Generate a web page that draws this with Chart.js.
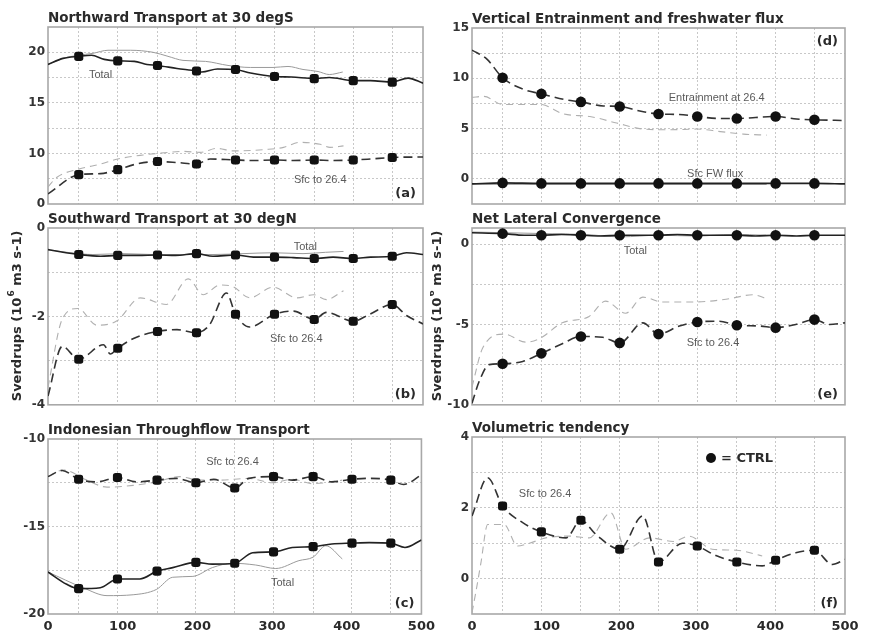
<!DOCTYPE html>
<html>
<head>
<meta charset="utf-8">
<script src="https://cdn.jsdelivr.net/npm/chart.js@4.4.1/dist/chart.umd.min.js"></script>
<style>
  body { margin: 0; background: #fff; width: 872px; height: 635px; position: relative; overflow: hidden; }
  canvas { position: absolute; }
</style>
</head>
<body>
<canvas id="pa"></canvas>
<canvas id="pb"></canvas>
<canvas id="pc"></canvas>
<canvas id="pd"></canvas>
<canvas id="pe"></canvas>
<canvas id="pf"></canvas>
<script>
// x axis: labelled ticks and the (odd) grid spacing of the original
const xLabelTicks = [0, 100, 200, 300, 400, 500];
const xGridTicks = [41, 93, 146, 198, 250, 302, 355, 407, 459];
// CTRL markers sit on the same x positions
const ctrlMarkX = [41, 93, 146, 198, 250, 302, 355, 407, 459];

// (a) Northward Transport at 30 degS
const aYTicks = [5, 7.5, 10, 12.5, 15, 17.5, 20, 22.5];
const aYLabels = ['0', '', '10', '', '15', '', '20', ''];
const aCtrlTotal = [[0,18.8],[20,19.4],[41,19.6],[58,19.7],[75,19.3],[93,19.15],[115,19.1],[132,18.8],[146,18.7],[172,18.4],[198,18.15],[205,18.05],[226,18.35],[250,18.3],[270,17.95],[302,17.6],[325,17.55],[355,17.4],[375,17.5],[407,17.2],[430,17.2],[459,17.05],[480,17.45],[500,16.95]];
const aExpTotal = [[0,18.8],[20,19.4],[40,19.7],[60,19.9],[80,20.2],[110,20.2],[140,20.0],[160,19.6],[180,19.2],[210,19.1],[240,18.7],[270,18.5],[300,18.5],[320,18.6],[340,18.3],[360,18.1],[375,17.8],[393,18.05]];
const aCtrlSfc = [[0,6.0],[41,7.9],[70,8.0],[93,8.4],[118,8.95],[146,9.2],[172,9.1],[198,8.95],[216,9.45],[250,9.35],[274,9.3],[302,9.35],[327,9.3],[355,9.35],[380,9.3],[407,9.35],[430,9.45],[459,9.6],[500,9.65]];
const aExpSfc = [[0,6.7],[12,7.65],[41,8.45],[70,8.95],[93,9.45],[127,9.85],[146,10.0],[181,10.2],[203,10.1],[225,10.5],[247,10.25],[292,10.4],[314,10.6],[336,11.1],[363,10.9],[376,10.6],[394,10.75]];

// (b) Southward Transport at 30 degN
const bYTicks = [-4, -3, -2, -1, 0];
const bYLabels = ['-4', '', '-2', '', '0'];
const bCtrlTotal = [[0,-0.49],[20,-0.55],[41,-0.6],[70,-0.64],[93,-0.62],[120,-0.62],[146,-0.61],[170,-0.62],[198,-0.58],[220,-0.64],[250,-0.61],[274,-0.66],[302,-0.66],[327,-0.67],[355,-0.69],[380,-0.66],[407,-0.69],[430,-0.66],[459,-0.64],[478,-0.56],[500,-0.6]];
const bExpTotal = [[0,-0.49],[30,-0.56],[60,-0.6],[100,-0.58],[140,-0.6],[180,-0.6],[220,-0.6],[260,-0.58],[300,-0.56],[340,-0.58],[370,-0.55],[394,-0.53]];
const bCtrlSfc = [[0,-3.8],[19,-2.68],[41,-2.97],[74,-2.64],[83,-2.85],[93,-2.72],[114,-2.5],[146,-2.34],[172,-2.3],[198,-2.37],[215,-2.2],[238,-1.47],[250,-1.95],[269,-2.24],[302,-1.95],[327,-1.88],[355,-2.07],[371,-1.91],[407,-2.11],[429,-1.95],[459,-1.73],[478,-1.98],[500,-2.17]];
const bExpSfc = [[0,-3.6],[19,-2.06],[40,-1.82],[65,-2.2],[92,-2.1],[123,-1.58],[158,-1.73],[187,-1.15],[207,-1.51],[229,-1.29],[247,-1.33],[269,-1.58],[300,-1.34],[332,-1.58],[354,-1.51],[371,-1.62],[394,-1.42]];

// (c) Indonesian Throughflow Transport
const cYTicks = [-20, -17.5, -15, -12.5, -10];
const cYLabels = ['-20', '', '-15', '', '-10'];
const cCtrlTotal = [[0,-17.6],[25,-18.3],[41,-18.55],[70,-18.5],[93,-18.0],[123,-18.0],[146,-17.55],[167,-17.35],[198,-17.05],[220,-17.15],[250,-17.1],[274,-16.5],[302,-16.45],[327,-16.2],[355,-16.15],[380,-16.0],[407,-15.95],[430,-15.92],[459,-15.95],[478,-16.2],[500,-15.77]];
const cExpTotal = [[0,-17.6],[47,-18.5],[79,-18.95],[114,-18.9],[145,-18.6],[167,-17.9],[194,-17.85],[220,-17.35],[247,-17.1],[278,-17.2],[305,-17.4],[336,-16.95],[355,-16.75],[372,-16.1],[394,-16.85]];
const cCtrlSfc = [[0,-12.15],[19,-11.8],[41,-12.3],[65,-12.45],[93,-12.2],[118,-12.45],[146,-12.35],[172,-12.25],[198,-12.5],[222,-12.3],[250,-12.8],[269,-12.25],[302,-12.15],[327,-12.35],[355,-12.15],[380,-12.45],[407,-12.3],[430,-12.25],[459,-12.35],[476,-12.6],[500,-12.05]];
const cExpSfc = [[0,-12.15],[21,-11.77],[52,-12.35],[79,-12.75],[114,-12.65],[145,-12.45],[176,-12.15],[203,-12.35],[230,-12.35],[269,-12.25],[300,-12.5],[327,-12.3],[354,-12.55],[380,-12.45],[394,-12.35]];

// (d) Vertical Entrainment and freshwater flux
const dYTicks = [-2.5, 0, 2.5, 5, 7.5, 10, 12.5, 15];
const dYLabels = ['', '0', '', '5', '', '10', '', '15'];
const dCtrlEnt = [[0,12.8],[20,11.9],[41,10.05],[69,8.9],[93,8.45],[123,7.9],[146,7.65],[176,7.25],[198,7.2],[225,6.75],[250,6.45],[278,6.4],[302,6.2],[333,6.0],[355,6.0],[380,6.1],[407,6.2],[435,5.95],[459,5.87],[500,5.8]];
const dExpEnt = [[0,8.1],[16,8.2],[41,7.4],[92,7.4],[123,6.45],[158,6.2],[194,5.55],[230,4.95],[266,4.88],[301,4.95],[333,4.7],[364,4.45],[395,4.35]];
const dCtrlFw = [[0,-0.5],[41,-0.4],[93,-0.45],[146,-0.45],[198,-0.45],[250,-0.45],[302,-0.45],[355,-0.45],[407,-0.45],[459,-0.45],[500,-0.5]];
const dExpFw = [[0,-0.55],[100,-0.55],[200,-0.55],[300,-0.55],[395,-0.55]];

// (e) Net Lateral Convergence
const eYTicks = [-10, -7.5, -5, -2.5, 0];
const eYLabels = ['-10', '', '-5', '', '0'];
const eCtrlTotal = [[0,0.7],[41,0.65],[70,0.55],[93,0.55],[120,0.6],[146,0.55],[172,0.5],[198,0.55],[225,0.55],[250,0.55],[275,0.6],[302,0.55],[330,0.55],[355,0.55],[380,0.5],[407,0.55],[435,0.5],[459,0.55],[500,0.55]];
const eExpTotal = [[0,0.75],[50,0.7],[100,0.65],[150,0.6],[200,0.45],[250,0.55],[300,0.5],[350,0.6],[394,0.55]];
const eCtrlSfc = [[0,-9.9],[10,-8.5],[23,-7.5],[41,-7.45],[68,-7.3],[93,-6.8],[121,-6.2],[146,-5.75],[175,-5.8],[198,-6.15],[229,-4.9],[250,-5.6],[278,-5.1],[302,-4.85],[331,-4.8],[355,-5.05],[385,-5.1],[407,-5.2],[434,-5.0],[459,-4.7],[479,-5.0],[500,-4.9]];
const eExpSfc = [[0,-8.9],[14,-6.5],[43,-5.6],[72,-6.1],[90,-5.9],[121,-4.9],[157,-4.5],[179,-3.55],[206,-4.3],[229,-3.3],[255,-3.6],[300,-3.6],[345,-3.4],[376,-3.15],[398,-3.45]];

// (f) Volumetric tendency
const fYTicks = [-1, 0, 1, 2, 3, 4];
const fYLabels = ['', '0', '', '2', '', '4'];
const fCtrlSfc = [[0,1.77],[21,2.85],[41,2.05],[68,1.58],[93,1.32],[126,1.15],[146,1.65],[166,1.25],[198,0.83],[229,1.77],[250,0.47],[282,1.0],[302,0.92],[327,0.65],[355,0.47],[389,0.36],[407,0.52],[434,0.73],[459,0.8],[483,0.4],[500,0.54]];
const fExpSfc = [[0,-0.96],[5,-0.4],[12,0.45],[21,1.53],[43,1.53],[61,0.92],[77,1.0],[99,1.15],[130,1.2],[157,1.15],[186,1.86],[206,0.83],[238,1.15],[270,1.05],[291,1.2],[322,0.83],[355,0.8],[389,0.64]];

// line looks
const CTRL_SOLID = { borderColor: '#222', borderWidth: 1.6, borderDash: [] , ctrl: true };
const EXP_SOLID  = { borderColor: '#9a9a9a', borderWidth: 1, borderDash: [], ctrl: false };
const CTRL_DASH  = { borderColor: '#333', borderWidth: 1.6, borderDash: [9, 5], ctrl: true };
const EXP_DASH   = { borderColor: '#b0b0b0', borderWidth: 1.1, borderDash: [7, 5], ctrl: false };

const TICK_FONT = { family: 'DejaVu Sans', size: 12, weight: 'bold' };
const XTICK_FONT = { family: 'DejaVu Sans', size: 13, weight: 'bold' };

// titles, notes, frame, y title and legend
const decor = {
  id: 'decor',
  beforeDatasetsDraw(chart, args, o) {
    const a = chart.chartArea;
    const ctx = chart.ctx;
    ctx.save();
    ctx.strokeStyle = '#a8a8a8';
    ctx.lineWidth = 1.6;
    ctx.strokeRect(a.left, a.top, a.right - a.left, a.bottom - a.top);
    ctx.restore();
  },
  afterDraw(chart, args, o) {
    const a = chart.chartArea;
    const ctx = chart.ctx;
    const xs = chart.scales.x, ys = chart.scales.y;
    ctx.save();
    // panel title
    ctx.fillStyle = '#2a2a2a';
    ctx.font = 'bold 13.5px "DejaVu Sans"';
    ctx.textAlign = 'left';
    ctx.textBaseline = 'middle';
    ctx.fillText(o.title, a.left, a.top - 9);
    // panel letter
    ctx.font = 'bold 13px "DejaVu Sans"';
    ctx.textAlign = 'right';
    ctx.fillText(o.letter, a.right - 7, o.letterTop ? a.top + 14 : a.bottom - 10);
    // curve notes
    ctx.fillStyle = '#5a5a5a';
    ctx.font = '11px "Liberation Sans"';
    ctx.textAlign = 'center';
    (o.notes || []).forEach(([t, x, y]) => {
      ctx.fillText(t, xs.getPixelForValue(x), ys.getPixelForValue(y));
    });
    // legend
    if (o.legend) {
      const cx = a.left + 239, cy = a.top + 21;
      ctx.fillStyle = '#111';
      ctx.beginPath();
      ctx.arc(cx, cy, 5, 0, Math.PI * 2);
      ctx.fill();
      ctx.fillStyle = '#2a2a2a';
      ctx.font = 'bold 13px "DejaVu Sans"';
      ctx.textAlign = 'left';
      ctx.fillText(o.legend, cx + 10, cy + 1);
    }
    // y axis title with superscript
    if (o.yTitle) {
      const [p1, p2, p3] = o.yTitle;
      ctx.translate(o.yTitleX, (a.top + a.bottom) / 2);
      ctx.rotate(-Math.PI / 2);
      ctx.fillStyle = '#2a2a2a';
      ctx.textAlign = 'left';
      ctx.font = 'bold 13px "DejaVu Sans"';
      const w1 = ctx.measureText(p1).width, w3 = ctx.measureText(p3).width;
      ctx.font = 'bold 9px "DejaVu Sans"';
      const w2 = ctx.measureText(p2).width;
      let x0 = -(w1 + w2 + w3) / 2;
      ctx.font = 'bold 13px "DejaVu Sans"';
      ctx.fillText(p1, x0, 0);
      ctx.font = 'bold 9px "DejaVu Sans"';
      ctx.fillText(p2, x0 + w1 + 1, -6);
      ctx.font = 'bold 13px "DejaVu Sans"';
      ctx.fillText(p3, x0 + w1 + w2 + 1, 0);
    }
    ctx.restore();
  }
};

function makeChart(p) {
  const canvas = document.getElementById(p.id);
  canvas.width = p.w;
  canvas.height = p.h;
  canvas.style.left = p.left + 'px';
  canvas.style.top = p.top + 'px';
  const ymin = p.yTicks[0], ymax = p.ymax;
  const datasets = p.series.map(([data, look]) => ({
    data: data.map(([x, y]) => ({ x, y })),
    borderColor: look.borderColor,
    borderWidth: look.borderWidth,
    borderDash: look.borderDash,
    cubicInterpolationMode: 'monotone',
    fill: false,
    pointStyle: p.pointStyle,
    pointBackgroundColor: '#111',
    pointBorderColor: '#111',
    pointBorderWidth: 0,
    pointRadius: ctx => (look.ctrl && ctx.raw && ctrlMarkX.includes(ctx.raw.x)) ? 5.3 : 0
  }));
  return new Chart(canvas, {
    type: 'line',
    data: { datasets },
    options: {
      responsive: false,
      animation: false,
      devicePixelRatio: 1,
      layout: { padding: { left: 0, top: p.t - p.top, right: p.left + p.w - p.r, bottom: p.top + p.h - p.b - p.xh } },
      plugins: {
        legend: { display: false },
        tooltip: { enabled: false },
        decor: { title: p.title, letter: p.letter, letterTop: p.letterTop, notes: p.notes,
                 legend: p.legend, yTitle: p.yTitle, yTitleX: p.yTitleX }
      },
      scales: {
        x: {
          type: 'linear', min: 0, max: 500,
          afterBuildTicks: s => { s.ticks = [...new Set([...xLabelTicks, ...xGridTicks])].sort((u, v) => u - v).map(v => ({ value: v })); },
          afterFit: s => { s.height = p.xh; },
          ticks: {
            display: p.showX, autoSkip: false, maxRotation: 0, padding: 5,
            font: XTICK_FONT, color: '#2a2a2a',
            callback: v => xLabelTicks.includes(v) ? String(v) : ''
          },
          grid: { drawTicks: false, lineWidth: 1, color: c => (c.tick && xGridTicks.includes(c.tick.value)) ? '#c8c8c8' : 'rgba(0,0,0,0)' },
          border: { display: false, dash: [2, 2] }
        },
        y: {
          type: 'linear', min: ymin, max: ymax,
          afterBuildTicks: s => { s.ticks = p.yTicks.filter(v => v <= ymax).map(v => ({ value: v })); },
          afterFit: s => { s.width = p.l - p.left; },
          ticks: {
            autoSkip: false, padding: 3, font: TICK_FONT, color: '#333',
            callback: v => p.yLabels[p.yTicks.indexOf(v)]
          },
          grid: { drawTicks: false, lineWidth: 1, color: c => (c.tick && c.tick.value > ymin && c.tick.value < ymax) ? '#c8c8c8' : 'rgba(0,0,0,0)' },
          border: { display: false, dash: [2, 2] }
        }
      }
    },
    plugins: [decor]
  });
}

const yTitleParts = ['Sverdrups (10', '6', ' m3 s-1)'];

makeChart({ id: 'pa', left: 0, top: 0, w: 440, h: 215, l: 48, r: 423, t: 27, b: 204, xh: 6, showX: false,
  yTicks: aYTicks, yLabels: aYLabels, ymax: 22.5, pointStyle: 'rectRounded',
  title: 'Northward Transport at 30 degS', letter: '(a)',
  notes: [['Total', 70, 17.75], ['Sfc to 26.4', 363, 7.35]],
  series: [[aCtrlTotal, CTRL_SOLID], [aCtrlSfc, CTRL_DASH], [aExpTotal, EXP_SOLID], [aExpSfc, EXP_DASH]] });

makeChart({ id: 'pb', left: 0, top: 205, w: 440, h: 210, l: 48, r: 423, t: 228, b: 409, xh: 6, showX: false,
  yTicks: bYTicks, yLabels: bYLabels, ymax: 0, pointStyle: 'rectRounded',
  title: 'Southward Transport at 30 degN', letter: '(b)',
  yTitle: yTitleParts, yTitleX: 18,
  notes: [['Total', 343, -0.42], ['Sfc to 26.4', 331, -2.51]],
  series: [[bCtrlTotal, CTRL_SOLID], [bCtrlSfc, CTRL_DASH], [bExpTotal, EXP_SOLID], [bExpSfc, EXP_DASH]] });

makeChart({ id: 'pc', left: 0, top: 410, w: 440, h: 225, l: 48, r: 423, t: 439, b: 614, xh: 18, showX: true,
  yTicks: cYTicks, yLabels: cYLabels, ymax: -10, pointStyle: 'rectRounded',
  title: 'Indonesian Throughflow Transport', letter: '(c)',
  notes: [['Sfc to 26.4', 247, -11.3], ['Total', 314, -18.2]],
  series: [[cCtrlTotal, CTRL_SOLID], [cCtrlSfc, CTRL_DASH], [cExpTotal, EXP_SOLID], [cExpSfc, EXP_DASH]] });

makeChart({ id: 'pd', left: 430, top: 0, w: 442, h: 215, l: 472, r: 845, t: 28, b: 204, xh: 6, showX: false,
  yTicks: dYTicks, yLabels: dYLabels, ymax: 15, pointStyle: 'circle',
  title: 'Vertical Entrainment and freshwater flux', letter: '(d)', letterTop: true,
  notes: [['Entrainment at 26.4', 328, 8.0], ['Sfc FW flux', 326, 0.5]],
  series: [[dCtrlFw, CTRL_SOLID], [dCtrlEnt, CTRL_DASH], [dExpFw, EXP_SOLID], [dExpEnt, EXP_DASH]] });

makeChart({ id: 'pe', left: 430, top: 205, w: 442, h: 210, l: 472, r: 845, t: 228, b: 409, xh: 6, showX: false,
  yTicks: eYTicks, yLabels: eYLabels, ymax: 1, pointStyle: 'circle',
  title: 'Net Lateral Convergence', letter: '(e)',
  yTitle: yTitleParts, yTitleX: 8,
  notes: [['Total', 219, -0.45], ['Sfc to 26.4', 323, -6.15]],
  series: [[eCtrlTotal, CTRL_SOLID], [eCtrlSfc, CTRL_DASH], [eExpTotal, EXP_SOLID], [eExpSfc, EXP_DASH]] });

makeChart({ id: 'pf', left: 430, top: 410, w: 442, h: 225, l: 472, r: 845, t: 437, b: 614, xh: 18, showX: true,
  yTicks: fYTicks, yLabels: fYLabels, ymax: 4, pointStyle: 'rectRounded',
  title: 'Volumetric tendency', letter: '(f)', legend: '= CTRL',
  notes: [['Sfc to 26.4', 98, 2.4]],
  series: [[fCtrlSfc, CTRL_DASH], [fExpSfc, EXP_DASH]] });
</script>
</body>
</html>
